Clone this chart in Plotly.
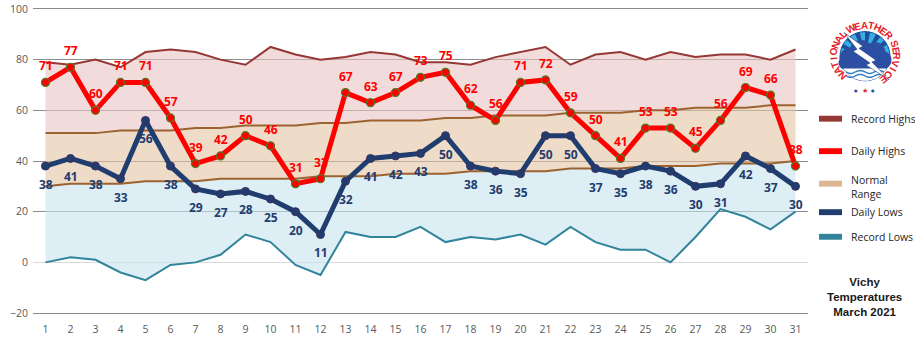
import math
import plotly.graph_objects as go

# March 2021 daily temperature data (°F) for Vichy
days = list(range(1, 32))
record_highs = [79, 78, 80, 77, 83, 84, 83, 80, 78, 85, 82, 80, 81, 83, 82, 79,
                79, 78, 81, 83, 85, 78, 82, 83, 80, 83, 81, 82, 82, 80, 84]
normal_highs = [51, 51, 51, 52, 52, 52, 53, 53, 54, 54, 54, 55, 55, 56, 56, 56,
                57, 57, 58, 58, 58, 59, 59, 59, 60, 60, 61, 61, 61, 62, 62]
normal_lows = [30, 31, 31, 31, 32, 32, 32, 33, 33, 33, 33, 34, 34, 34, 35, 35,
               35, 36, 36, 36, 36, 37, 37, 37, 38, 38, 38, 39, 39, 39, 40]
record_lows = [0, 2, 1, -4, -7, -1, 0, 3, 11, 8, -1, -5, 12, 10, 10, 14,
               8, 10, 9, 11, 7, 14, 8, 5, 5, 0, 10, 21, 18, 13, 20]
daily_highs = [71, 77, 60, 71, 71, 57, 39, 42, 50, 46, 31, 33, 67, 63, 67, 73,
               75, 62, 56, 71, 72, 59, 50, 41, 53, 53, 45, 56, 69, 66, 38]
daily_lows = [38, 41, 38, 33, 56, 38, 29, 27, 28, 25, 20, 11, 32, 41, 42, 43,
              50, 38, 36, 35, 50, 50, 37, 35, 38, 36, 30, 31, 42, 37, 30]

y_ticks = [-20, 0, 20, 40, 60, 80, 100]
legend_labels = ["Record Highs", "Daily Highs", "Normal<br>Range", "Daily Lows", "Record Lows"]
legend_colors = ["#953735", "#ff0000", "#dcb691", "#1f3d6e", "#31849b"]
title_text = "Vichy<br>Temperatures<br>March 2021"
logo_text = "NATIONAL WEATHER SERVICE"

W, H = 915, 338
ML, MR, MT, MB = 33, 107, 2, 21
PW, PH = W - ML - MR, H - MT - MB
# a little headroom so the gridlines at -20 and 100 sit just inside the plot area
Y_PAD = 3 * 120 / 309
Y_RANGE = [y_ticks[0] - Y_PAD, y_ticks[-1] + Y_PAD]


def PX(x):
    return (x - ML) / PW


def PY(y):
    return (H - MB - y) / PH


def path_from(points, close=True):
    s = "M " + " L ".join(f"{PX(x):.5f},{PY(y):.5f}" for x, y in points)
    return s + (" Z" if close else "")


RED_HI = "#ff0000"
BLUE_LO = "#1f3d6e"

fig = go.Figure()

# Shaded climate bands: record low -> normal low -> normal high -> record high
fig.add_trace(go.Scatter(x=days, y=record_lows, mode="lines",
                         line=dict(color="#31849b", width=2), hoverinfo="skip"))
fig.add_trace(go.Scatter(x=days, y=normal_lows, mode="lines", fill="tonexty",
                         fillcolor="rgba(198,227,237,0.6)",
                         line=dict(color="#9c6330", width=2), hoverinfo="skip"))
fig.add_trace(go.Scatter(x=days, y=normal_highs, mode="lines", fill="tonexty",
                         fillcolor="rgba(227,195,163,0.6)",
                         line=dict(color="#9c6330", width=2), hoverinfo="skip"))
fig.add_trace(go.Scatter(x=days, y=record_highs, mode="lines", fill="tonexty",
                         fillcolor="rgba(233,197,195,0.6)",
                         line=dict(color="#953735", width=2), hoverinfo="skip"))

# Observed daily lows and highs
fig.add_trace(go.Scatter(x=days, y=daily_lows, mode="lines+markers",
                         line=dict(color=BLUE_LO, width=5),
                         marker=dict(size=8, color=BLUE_LO, line=dict(color="#3c2f5e", width=1))))
fig.add_trace(go.Scatter(x=days, y=daily_highs, mode="lines+markers",
                         line=dict(color=RED_HI, width=5),
                         marker=dict(size=8, color=RED_HI, line=dict(color="#4f7a28", width=1.2))))

annotations = []
label_font = "Open Sans"
for d, v in zip(days, daily_highs):
    annotations.append(dict(x=d, y=v, xref="x", yref="y", text=f"<b>{v}</b>", showarrow=False,
                            yshift=16.5, font=dict(family=label_font, size=12, color=RED_HI),
                            xanchor="center", yanchor="middle"))
for d, v in zip(days, daily_lows):
    annotations.append(dict(x=d, y=v, xref="x", yref="y", text=f"<b>{v}</b>", showarrow=False,
                            yshift=-18.5, font=dict(family=label_font, size=12, color=BLUE_LO),
                            xanchor="center", yanchor="middle"))

shapes = []

# Legend swatches and labels
legend_y = [116.5, 149.5, 182.5, 211.5, 236.5]
label_y = [116.5, 149.5, 185.5, 211.5, 236.5]
for lab, col, sy, ty in zip(legend_labels, legend_colors, legend_y, label_y):
    shapes.append(dict(type="rect", xref="paper", yref="paper",
                       x0=PX(819), x1=PX(842), y0=PY(sy + 3), y1=PY(sy - 3),
                       fillcolor=col, line=dict(width=0), layer="above"))
    annotations.append(dict(x=PX(849), y=PY(ty), xref="paper", yref="paper", text=lab,
                            showarrow=False, xanchor="left", yanchor="middle", align="left",
                            font=dict(family="Open Sans", size=10.5, color="#262626")))

# Chart title block
annotations.append(dict(x=PX(864), y=PY(298), xref="paper", yref="paper",
                        text="<b>" + title_text + "</b>", showarrow=False,
                        xanchor="center", yanchor="middle", align="center",
                        font=dict(family="Liberation Sans", size=11.5, color="#1a1a1a")))

# --- National Weather Service emblem ---
cx, cy, rd = 865, 53, 25


def circle(x, y, r, fill, line_col=None, lw=0):
    return dict(type="circle", xref="paper", yref="paper",
                x0=PX(x - r), x1=PX(x + r), y0=PY(y + r), y1=PY(y - r),
                fillcolor=fill, line=dict(color=line_col or fill, width=lw), layer="above")


shapes.append(circle(cx, cy, rd, "#3aaee0", "#1d4f9e", 1))
# sun rays behind the cloud
for a0, a1 in [(28, 40), (52, 64), (78, 90), (102, 114), (126, 138), (150, 160)]:
    pts = [(cx, cy)]
    for k in range(7):
        t = math.radians(a0 + (a1 - a0) * k / 6)
        pts.append((cx + rd * math.cos(t), cy - rd * math.sin(t)))
    shapes.append(dict(type="path", xref="paper", yref="paper", path=path_from(pts),
                       fillcolor="#1d4f9e", line=dict(width=0), layer="above"))
shapes.append(circle(cx, cy + 4, 9, "#1d4f9e"))
# cloud
for x, y, r in [(850, 55, 10.5), (861, 48, 11.5), (875, 49, 10.5), (882, 57, 9.5),
                (868, 60, 10.5), (855, 62, 8.5), (845, 60, 6.5)]:
    shapes.append(circle(x, y, r, "#2c4fa3"))
# waves in the lower part of the disc
seg = []
for k in range(21):
    t = math.radians(-30 - 120 * k / 20)
    seg.append((cx + rd * math.cos(t), cy - rd * math.sin(t)))
shapes.append(dict(type="path", xref="paper", yref="paper", path=path_from(seg),
                   fillcolor="#ffffff", line=dict(width=0), layer="above"))
for wy in (69, 73):
    pts = []
    for k in range(25):
        x = 846 + 38 * k / 24
        pts.append((x, wy + 1.5 * math.sin(k / 24 * 4 * math.pi)))
    shapes.append(dict(type="path", xref="paper", yref="paper", path=path_from(pts, close=False),
                       line=dict(color="#2f7fc6", width=1.5), layer="above"))
# lightning bolt
bolt = [(844, 29), (863, 43), (859, 45), (876, 57), (872, 59), (889, 77),
        (866, 62), (870, 60), (853, 48), (857, 46)]
shapes.append(dict(type="path", xref="paper", yref="paper", path=path_from(bolt),
                   fillcolor="#ffffff", line=dict(color="#1d3f80", width=0.6), layer="above"))

# lettering around the disc
chars = list(logo_text)
steps = []
for i in range(1, len(chars)):
    if chars[i] == " ":
        continue
    steps.append(1.45 if chars[i - 1] == " " else 1.0)
start, end = 224.0, -54.0
unit = (start - end) / sum(steps)
letters = [c for c in chars if c != " "]
positions = [start]
ang = start
for s in steps:
    ang -= s * unit
    positions.append(ang)
for ch, a in zip(letters, positions):
    t = math.radians(a)
    lx, ly = cx + 31.5 * math.cos(t), cy - 1 - 30.5 * math.sin(t)
    annotations.append(dict(x=PX(lx), y=PY(ly), xref="paper", yref="paper",
                            text="<b>" + ch + "</b>", showarrow=False, textangle=90 - a,
                            xanchor="center", yanchor="middle",
                            font=dict(family="Liberation Sans", size=10, color="#e32028")))
for sx, txt, col, sz in [(856, "●", "#2c4fa3", 4), (864.5, "★", "#e32028", 7), (873, "●", "#2c4fa3", 4)]:
    annotations.append(dict(x=PX(sx), y=PY(88), xref="paper", yref="paper", text=txt,
                            showarrow=False, xanchor="center", yanchor="middle",
                            font=dict(family="DejaVu Sans", size=sz, color=col)))

fig.update_layout(
    width=W, height=H,
    margin=dict(l=ML, r=MR, t=MT, b=MB, pad=0),
    paper_bgcolor="white", plot_bgcolor="white",
    showlegend=False,
    annotations=annotations,
    shapes=shapes,
    xaxis=dict(range=[0.5, 31.5], tickmode="array", tickvals=days, showgrid=False,
               zeroline=False, showline=False, ticks="",
               tickfont=dict(family="Open Sans", size=10.5, color="#595959"),
               ticklabelstandoff=5, ticklabeloverflow="allow", fixedrange=True),
    yaxis=dict(range=Y_RANGE, tickmode="array", tickvals=y_ticks, showgrid=True,
               gridcolor="#8c8c8c", gridwidth=1, zeroline=True, zerolinecolor="#d9d9d9",
               zerolinewidth=1, showline=False, ticks="",
               tickfont=dict(family="Open Sans", size=10.5, color="#595959"),
               ticklabelstandoff=4, ticklabeloverflow="allow", fixedrange=True),
)

fig.write_html("out.html")
